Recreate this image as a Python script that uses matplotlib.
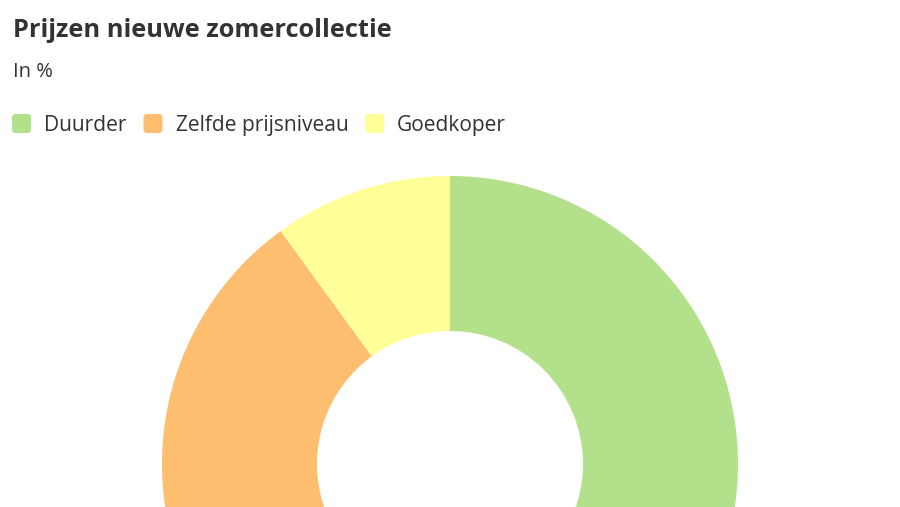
import matplotlib
matplotlib.use("Agg")
import matplotlib.pyplot as plt
from matplotlib.patches import FancyBboxPatch

plt.rcParams['font.family'] = ['Open Sans', 'DejaVu Sans']

categories = ['Duurder', 'Zelfde prijsniveau', 'Goedkoper']
values = [50, 40, 10]
colors = ['#b3e08a', '#fdbe70', '#ffff99']

W, H = 900, 507
fig = plt.figure(figsize=(W / 100, H / 100), dpi=100)

# donut axes in pixel coordinates (y from bottom)
ax = fig.add_axes([0, 0, 1, 1])
cx, cy = 450, H - 464
r_out, r_in = 288, 133
ax.pie(values, colors=colors, startangle=90, counterclock=False,
       center=(cx, cy), radius=r_out,
       wedgeprops=dict(width=r_out - r_in, linewidth=0))
ax.set_xlim(0, W)
ax.set_ylim(0, H)
ax.set_aspect('equal')
ax.axis('off')

txt = '#333333'
fig.text(13 / W, 1 - 37 / H, 'Prijzen nieuwe zomercollectie', fontsize=18.3,
         fontweight='bold', color=txt, va='baseline', ha='left')
fig.text(13 / W, 1 - 77 / H, 'In %', fontsize=14.5, color=txt,
         va='baseline', ha='left')

# legend drawn by hand
fig.canvas.draw()
renderer = fig.canvas.get_renderer()
x = 12
box = 19
for label, col in zip(categories, colors):
    p = FancyBboxPatch((x / W, 1 - 133 / H), box / W, box / H,
                       boxstyle='round,pad=0,rounding_size=0.004',
                       transform=fig.transFigure, facecolor=col,
                       edgecolor='none', mutation_aspect=W / H)
    fig.patches.append(p)
    t = fig.text((x + box + 13) / W, 1 - 131 / H, label, fontsize=15.1,
                 color=txt, va='baseline', ha='left')
    bb = t.get_window_extent(renderer)
    x = bb.x1 + 17

fig.savefig('out.png', dpi=100)
